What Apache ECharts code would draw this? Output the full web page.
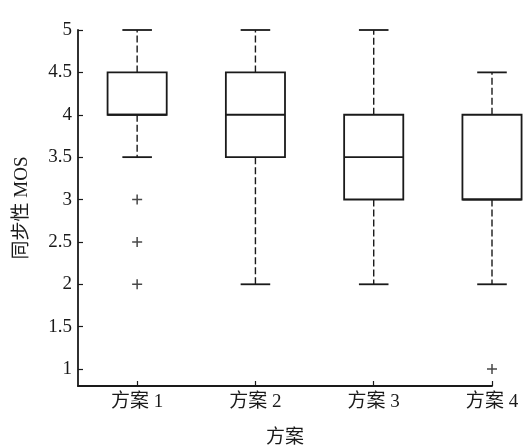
<!DOCTYPE html>
<html>
<head>
<meta charset="utf-8">
<script src="https://cdn.jsdelivr.net/npm/echarts@6/dist/echarts.min.js"></script>
<style>html,body{margin:0;padding:0;background:#fff}#c{width:526px;height:448px}</style>
</head>
<body>
<div id="c"></div>
<script>
// Categories and box statistics
const categories = ['方案 1', '方案 2', '方案 3', '方案 4'];
const whiskerLow = [3.5, 2, 2, 2];
const q1 = [4, 3.5, 3, 3];
const median = [4, 4, 3.5, 3];
const q3 = [4.5, 4.5, 4, 4];
const whiskerHigh = [5, 5, 5, 4.5];
// Outliers as [category index (1-based), value]
const outliers = [[1, 3], [1, 2.5], [1, 2], [4, 1]];
const yTicks = [1, 1.5, 2, 2.5, 3, 3.5, 4, 4.5, 5];
const xTicks = [1, 2, 3, 4];

const boxData = categories.map((c, i) => [i + 1, whiskerLow[i], q1[i], median[i], q3[i], whiskerHigh[i]]);

const FONT = "'Liberation Serif', 'Noto Sans CJK SC', serif";
const INK = '#1a1a1a';

function renderBox(params, api) {
  const x = api.value(0);
  const pLow = api.coord([x, api.value(1)]);
  const pQ1 = api.coord([x, api.value(2)]);
  const pMed = api.coord([x, api.value(3)]);
  const pQ3 = api.coord([x, api.value(4)]);
  const pHigh = api.coord([x, api.value(5)]);
  const boxW = api.size([0.5, 0])[0];
  const capW = boxW / 2;
  const cx = pQ1[0];
  const solid = { stroke: INK, lineWidth: 1.8, fill: null };
  const dashed = { stroke: INK, lineWidth: 1.4, lineDash: [7, 3], fill: null };
  return {
    type: 'group',
    children: [
      { type: 'line', shape: { x1: cx, y1: pQ3[1], x2: cx, y2: pHigh[1] }, style: dashed },
      { type: 'line', shape: { x1: cx, y1: pQ1[1], x2: cx, y2: pLow[1] }, style: dashed },
      { type: 'line', shape: { x1: cx - capW / 2, y1: pHigh[1], x2: cx + capW / 2, y2: pHigh[1] }, style: solid },
      { type: 'line', shape: { x1: cx - capW / 2, y1: pLow[1], x2: cx + capW / 2, y2: pLow[1] }, style: solid },
      { type: 'rect', shape: { x: cx - boxW / 2, y: pQ3[1], width: boxW, height: pQ1[1] - pQ3[1] }, style: solid },
      { type: 'line', shape: { x1: cx - boxW / 2, y1: pMed[1], x2: cx + boxW / 2, y2: pMed[1] }, style: solid }
    ]
  };
}

const chart = echarts.init(document.getElementById('c'), null, { renderer: 'canvas' });
chart.setOption({
  backgroundColor: '#fff',
  animation: false,
  grid: { left: 78, right: 34, top: 30, bottom: 62, containLabel: false, outerBoundsMode: 'none' },
  xAxis: {
    type: 'value',
    min: 0.5,
    max: 4,
    name: '方案',
    nameLocation: 'middle',
    nameGap: 43,
    nameTextStyle: { fontFamily: FONT, fontSize: 19, color: INK },
    axisLine: { show: true, onZero: false, lineStyle: { color: INK, width: 1.8 } },
    axisTick: { show: true, inside: true, length: 5, customValues: xTicks, lineStyle: { color: INK, width: 1.2 } },
    axisLabel: {
      customValues: xTicks,
      margin: 7,
      fontFamily: FONT,
      fontSize: 19,
      color: INK,
      formatter: v => categories[Math.round(v) - 1] || ''
    },
    splitLine: { show: false }
  },
  yAxis: {
    type: 'value',
    min: 0.8,
    max: 5,
    name: '同步性 MOS',
    nameLocation: 'middle',
    nameGap: 46,
    nameRotate: 90,
    nameTextStyle: { fontFamily: FONT, fontSize: 19, color: INK },
    axisLine: { show: true, lineStyle: { color: INK, width: 1.8 } },
    axisTick: { show: true, inside: true, length: 5, customValues: yTicks, lineStyle: { color: INK, width: 1.2 } },
    axisLabel: {
      customValues: yTicks,
      margin: 6,
      fontFamily: FONT,
      fontSize: 19,
      color: INK,
      formatter: v => String(v)
    },
    splitLine: { show: false }
  },
  series: [
    {
      type: 'custom',
      renderItem: renderBox,
      data: boxData,
      clip: false,
      encode: { x: 0, y: [1, 2, 3, 4, 5] }
    },
    {
      type: 'scatter',
      data: outliers,
      symbol: 'path://M0,5 L10,5 M5,0 L5,10',
      symbolSize: 10,
      itemStyle: { color: 'transparent', borderColor: INK, borderWidth: 1.5 }
    }
  ]
});
</script>
</body>
</html>
